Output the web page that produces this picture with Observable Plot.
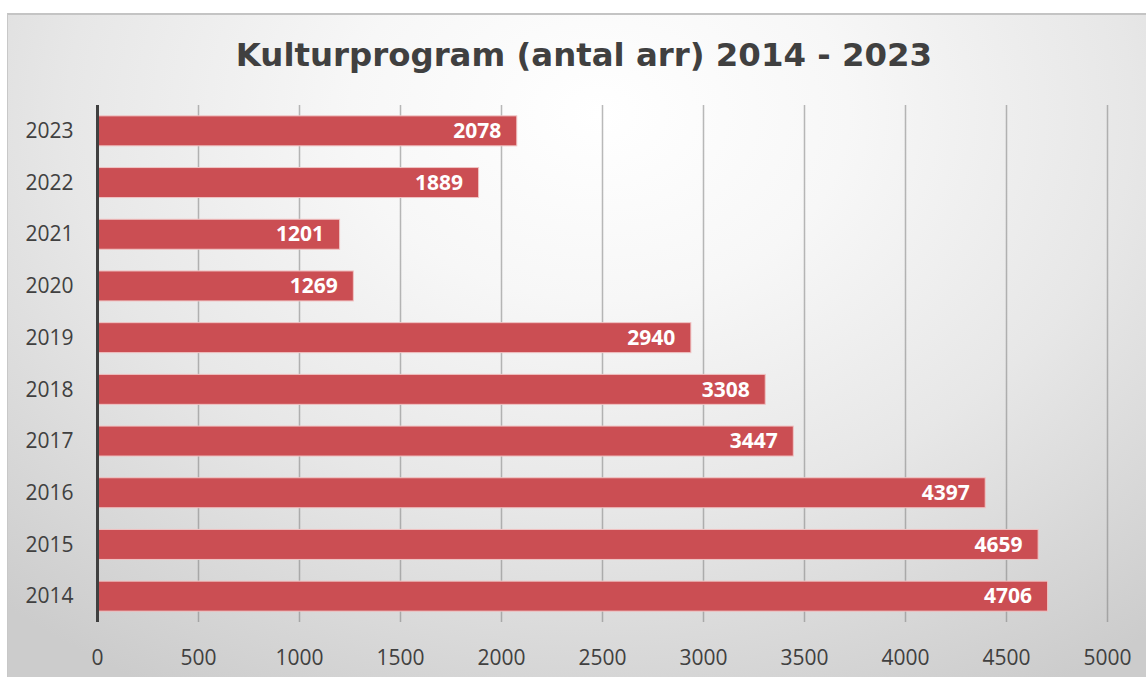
<!DOCTYPE html>
<html><head><meta charset="utf-8">
<script src="https://cdn.jsdelivr.net/npm/d3@7"></script>
<script src="https://cdn.jsdelivr.net/npm/@observablehq/plot@0.6"></script>
<style>
body{margin:0;background:#fff;}
#wrap{position:relative;width:1146px;height:677px;overflow:hidden;}
#panel{position:absolute;left:7px;top:13px;width:1139px;height:664px;box-sizing:border-box;
  border-top:2px solid #c4c4c4;border-left:1px solid #c8c8c8;
  background:radial-gradient(ellipse 78% 100% at 52% 15%, #ffffff 0%, #f7f7f7 28%, #e7e7e7 60%, #cccccc 100%);}
#title{position:absolute;left:0;top:39px;width:1168px;text-align:center;font:bold 32.4px "DejaVu Sans",sans-serif;line-height:1;color:#404040;}
#chart{position:absolute;left:0;top:90px;}
</style>
</head><body>
<div id="wrap">
  <div id="panel"></div>
  <div id="title">Kulturprogram (antal arr) 2014 - 2023</div>
  <div id="chart"></div>
</div>
<script>
const years = ["2014","2015","2016","2017","2018","2019","2020","2021","2022","2023"];
const values = [4706, 4659, 4397, 3447, 3308, 2940, 1269, 1201, 1889, 2078];
const xTicks = [0, 500, 1000, 1500, 2000, 2500, 3000, 3500, 4000, 4500, 5000];

const data = years.map((y, i) => ({year: y, value: values[i]}));

const chart = Plot.plot({
  width: 1146,
  height: 587,
  marginLeft: 97,
  marginRight: 39,
  marginTop: 15,
  marginBottom: 55,
  style: {background: "transparent", fontFamily: "'Open Sans', sans-serif", fontSize: "21px", color: "#404040"},
  x: {domain: [0, 5000], label: null},
  y: {domain: years.slice().reverse(), paddingInner: 0.42, paddingOuter: 0.21, round: false, label: null},
  marks: [
    Plot.ruleX(xTicks.slice(1), {stroke: "#808080", strokeOpacity: 0.55, strokeWidth: 1.5}),
    Plot.barX(data, {x: "value", y: "year", fill: "#cb4e53", stroke: "#f0c4c4", strokeWidth: 1}),
    Plot.text(data, {x: "value", y: "year", text: d => String(d.value), textAnchor: "end", dx: -16,
      fill: "white", fontWeight: "bold", fontSize: 21}),
    Plot.axisX({ticks: xTicks, tickSize: 0, tickPadding: 28, tickFormat: d => String(d), fill: "#404040"}),
    Plot.axisY({tickSize: 0, tickPadding: 24, fill: "#404040"}),
    Plot.ruleX([0], {stroke: "#404040", strokeWidth: 3})
  ]
});
document.getElementById("chart").appendChild(chart);
</script>
</body></html>
